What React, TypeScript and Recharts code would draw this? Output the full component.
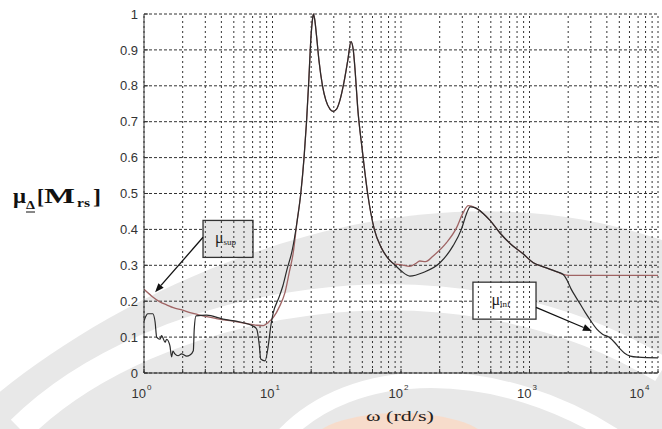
import React from "react";
import {
  LineChart,
  Line,
  XAxis,
  YAxis,
  CartesianGrid,
  ReferenceLine,
  ReferenceArea,
} from "recharts";

// upper bound mu_sup (frequency in rd/s, value)
const supW = [
  1, 1.15, 1.33, 1.5, 1.69, 2.0, 2.28, 2.6, 3.07, 3.6, 4.15, 4.8, 5.58, 6.5, 7.54, 8.5, 9.27,
  10.15, 11.4, 12.5, 13.5, 14.5, 15.5, 16.6, 17.6, 18.4, 19.2, 19.8, 20.4, 20.8, 21.3, 22, 23,
  24.5, 26, 28, 29.6, 31.5, 33.5, 36, 38.5, 40.8, 42.5, 44, 46, 50, 55, 62, 70, 79, 90, 98, 117,
  130, 140, 155, 178, 226, 271, 304, 334, 380, 440, 493, 589, 720, 891, 1070, 1300, 1600, 1820,
  2000, 3000, 5000, 10000,
];
const supMu = [
  0.233, 0.214, 0.198, 0.19, 0.182, 0.175, 0.168, 0.163, 0.157, 0.152, 0.148, 0.145, 0.141, 0.137,
  0.133, 0.132, 0.141, 0.155, 0.187, 0.224, 0.28, 0.335, 0.42, 0.5, 0.6, 0.7, 0.82, 0.92, 0.98,
  1.0, 0.985, 0.94, 0.87, 0.8, 0.76, 0.735, 0.729, 0.735, 0.76, 0.81, 0.87, 0.923, 0.9, 0.84,
  0.74, 0.62, 0.5, 0.4, 0.35, 0.32, 0.303, 0.302, 0.297, 0.305, 0.312, 0.31, 0.326, 0.363, 0.405,
  0.446, 0.466, 0.46, 0.443, 0.425, 0.39, 0.358, 0.332, 0.307, 0.295, 0.283, 0.275, 0.272, 0.272,
  0.272, 0.272,
];

// lower bound mu_inf
const infW = [
  1, 1.036, 1.07, 1.17, 1.22, 1.255, 1.33, 1.37, 1.46, 1.5, 1.59, 1.64, 1.68, 1.74, 1.84, 1.96,
  2.15, 2.28, 2.42, 2.46, 2.54, 3.07, 4.12, 5.58, 7.05, 7.54, 7.9, 8.1, 8.75, 9.27, 9.7, 10.15,
  11.1, 12.05, 13, 14.2, 15.5, 16.6, 17.6, 18.4, 19.2, 19.8, 20.4, 20.8, 21.3, 22, 23, 24.5, 26,
  28, 29.6, 31.5, 33.5, 36, 38.5, 40.8, 42.5, 44, 46, 50, 55, 62, 70, 79, 90, 100, 117, 149, 201,
  254, 295, 325, 345, 380, 440, 493, 589, 720, 891, 1070, 1300, 1600, 1820, 1950, 2100, 2270, 2500,
  2720, 3000, 3340, 3700, 4140, 4600, 5070, 5500, 6080, 7000, 10000,
];
const infMu = [
  0.145, 0.159, 0.165, 0.165, 0.142, 0.1, 0.094, 0.104, 0.086, 0.094, 0.076, 0.045, 0.061, 0.053,
  0.048, 0.053, 0.047, 0.05, 0.062, 0.122, 0.159, 0.161, 0.15, 0.142, 0.131, 0.122, 0.076, 0.039,
  0.034, 0.076, 0.131, 0.169, 0.206, 0.243, 0.29, 0.34, 0.42, 0.5, 0.6, 0.7, 0.82, 0.92, 0.98,
  1.0, 0.985, 0.94, 0.87, 0.8, 0.76, 0.735, 0.729, 0.735, 0.76, 0.81, 0.87, 0.923, 0.9, 0.84,
  0.74, 0.62, 0.5, 0.4, 0.35, 0.32, 0.3, 0.285, 0.27, 0.28, 0.307, 0.354, 0.4, 0.446, 0.463, 0.46,
  0.443, 0.425, 0.39, 0.358, 0.332, 0.307, 0.295, 0.283, 0.275, 0.26, 0.235, 0.214, 0.19, 0.168,
  0.145, 0.122, 0.108, 0.1, 0.085, 0.067, 0.055, 0.047, 0.044, 0.042,
];

const xMajor = [1, 10, 100, 1000, 10000];
const xMinor = [2, 3, 4, 5, 6, 7, 8, 9];
const xTicks = [...xMajor, ...xMajor.slice(0, 4).flatMap((d) => xMinor.map((m) => m * d))].sort(
  (a, b) => a - b
);
const yTicks = [0, 0.1, 0.2, 0.3, 0.4, 0.5, 0.6, 0.7, 0.8, 0.9, 1];

const supData = supW.map((w, i) => ({ w, mu: supMu[i] }));
const infData = infW.map((w, i) => ({ w, mu: infMu[i] }));

const AX = "#333";
const SANS = "'Liberation Sans', Arial, sans-serif";
const SERIF = "'Liberation Serif', 'Times New Roman', serif";

function DecadeTick(props: any) {
  const { x, y, payload } = props;
  const lg = Math.log10(payload.value);
  const exp = Math.round(lg);
  if (Math.abs(lg - exp) > 1e-6) return <g />;
  return (
    <text x={x + 2} y={y + 29} fontFamily={SANS} fontSize={13} fill={AX} textAnchor="end">
      10
      <tspan x={x + 3} y={y + 21} fontSize={8} textAnchor="start">
        {exp}
      </tspan>
    </text>
  );
}

const noTick = () => <g />;

function Arrow(props: any) {
  const { x1, y1, x2, y2 } = props;
  const a = Math.atan2(y2 - y1, x2 - x1);
  const L = 9;
  const W = 3.5;
  const bx = x2 - L * Math.cos(a);
  const by = y2 - L * Math.sin(a);
  const px = -Math.sin(a) * W;
  const py = Math.cos(a) * W;
  return (
    <g>
      <line x1={x1} y1={y1} x2={bx} y2={by} stroke="#111" strokeWidth={1.3} />
      <polygon points={`${x2},${y2} ${bx + px},${by + py} ${bx - px},${by - py}`} fill="#111" />
    </g>
  );
}

function boxShape(sub: string, fill: string) {
  return (props: any) => {
    const { x, y, width, height } = props;
    const cx = x + width / 2;
    const cy = y + height / 2;
    return (
      <g>
        <rect x={x} y={y} width={width} height={height} fill={fill} stroke="#333" strokeWidth={1.3} />
        <text x={cx - 13} y={cy + 4} fontFamily={SERIF} fontSize={16} fill="#222">
          μ
          <tspan fontSize={9} dy={2}>
            {sub}
          </tspan>
        </text>
      </g>
    );
  };
}

export default function App() {
  return (
    <div style={{ position: "absolute", left: 0, top: 0, width: 662, height: 429, background: "#fff" }}>
      <svg width={662} height={429} style={{ position: "absolute", left: 0, top: 0 }}>
        <path d="M -10 400 C 120 290, 400 150, 662 240 L 662 429 L -10 429 Z" fill="#e8e8e8" />
        <path d="M 20 429 C 150 300, 450 240, 662 370" fill="none" stroke="#fff" strokeWidth={26} />
        <path d="M 280 440 C 350 360, 500 360, 620 440" fill="none" stroke="#fff" strokeWidth={16} />
        <ellipse cx={400} cy={445} rx={90} ry={32} fill="#f7dccb" />
      </svg>
      <div style={{ position: "absolute", left: 0, top: 0 }}>
        <LineChart width={662} height={429} margin={{ top: 14, right: 4, bottom: 0, left: 0 }}>
          <CartesianGrid horizontal={true} vertical={false} stroke="#333" strokeDasharray="3 2" />
          {xTicks.map((t) => (
            <ReferenceLine key={t} x={t} stroke="#333" strokeDasharray="2 3" />
          ))}
          <XAxis
            dataKey="w"
            type="number"
            scale="log"
            domain={[1, 10000]}
            ticks={xTicks}
            allowDataOverflow
            height={56}
            stroke={AX}
            tickSize={-4}
            tickMargin={0}
            tick={DecadeTick}
          />
          <XAxis
            xAxisId="top"
            orientation="top"
            dataKey="w"
            type="number"
            scale="log"
            domain={[1, 10000]}
            ticks={xTicks}
            allowDataOverflow
            height={0}
            stroke={AX}
            tickSize={-4}
            tick={noTick}
          />
          <YAxis
            type="number"
            domain={[0, 1]}
            ticks={yTicks}
            width={144}
            stroke={AX}
            tickSize={-4}
            tickMargin={10}
            tick={{ fontSize: 13, fill: AX, fontFamily: SANS }}
            tickFormatter={(v: number) => (v === 0 || v === 1 ? String(v) : v.toFixed(1))}
          />
          <YAxis
            yAxisId="right"
            orientation="right"
            type="number"
            domain={[0, 1]}
            ticks={yTicks}
            width={0}
            stroke={AX}
            tickSize={-4}
            tick={noTick}
          />
          <Line
            data={supData}
            dataKey="mu"
            type="monotone"
            stroke="#a06464"
            strokeWidth={1.3}
            dot={false}
            isAnimationActive={false}
          />
          <Line
            data={infData}
            dataKey="mu"
            type="monotone"
            stroke="#2a2a2a"
            strokeWidth={1.2}
            dot={false}
            isAnimationActive={false}
          />
          <ReferenceLine
            segment={[
              { x: 2.88, y: 0.378 },
              { x: 1.22, y: 0.225 },
            ]}
            shape={Arrow}
          />
          <ReferenceLine
            segment={[
              { x: 1124, y: 0.183 },
              { x: 3060, y: 0.117 },
            ]}
            shape={Arrow}
          />
          <ReferenceArea x1={2.88} x2={7.05} y1={0.322} y2={0.425} shape={boxShape("sup", "#e6e6e6")} />
          <ReferenceArea x1={363} x2={1124} y1={0.15} y2={0.253} shape={boxShape("inf", "#fff")} />
        </LineChart>
      </div>
      <svg width={662} height={429} style={{ position: "absolute", left: 0, top: 0, pointerEvents: "none" }}>
        <g fontFamily={SERIF} fontWeight="bold" fill="#111">
          <text x={13} y={203} fontSize={22} textLength={13} lengthAdjust="spacingAndGlyphs">
            μ
          </text>
          <text x={26} y={209} fontSize={12} textLength={9} lengthAdjust="spacingAndGlyphs">
            Δ
          </text>
          <line x1={26} y1={212} x2={35} y2={212} stroke="#111" strokeWidth={1} />
          <text x={37} y={204} fontSize={22} textLength={7} lengthAdjust="spacingAndGlyphs">
            [
          </text>
          <text x={44} y={203} fontSize={21} textLength={31} lengthAdjust="spacingAndGlyphs">
            M
          </text>
          <text x={77} y={207} fontSize={13} textLength={13} lengthAdjust="spacingAndGlyphs">
            rs
          </text>
          <text x={93} y={204} fontSize={22} textLength={8} lengthAdjust="spacingAndGlyphs">
            ]
          </text>
        </g>
        <text
          x={366}
          y={421}
          fontFamily={SERIF}
          fontSize={15}
          fill="#222"
          textLength={68}
          lengthAdjust="spacingAndGlyphs"
        >
          ω  (rd/s)
        </text>
      </svg>
    </div>
  );
}
